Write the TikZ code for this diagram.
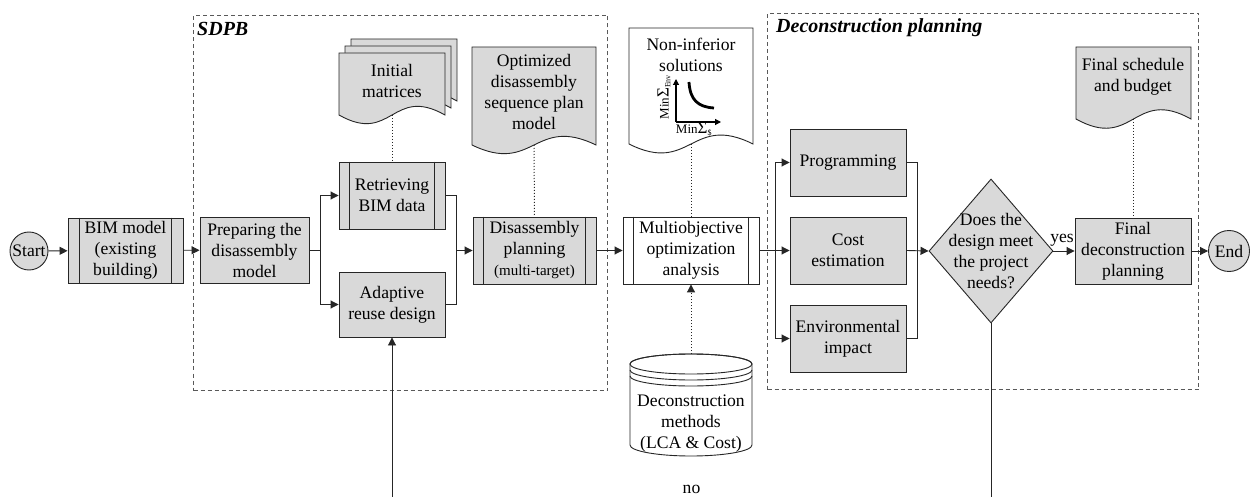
\documentclass[tikz,border=0pt]{standalone}
\usepackage{fontspec}
\setmainfont{Liberation Serif}
\usetikzlibrary{arrows.meta,shapes.geometric,calc}

\definecolor{boxgray}{HTML}{D9D9D9}
\definecolor{ink}{HTML}{262626}
\definecolor{framegray}{HTML}{595959}

% document symbol: flat top, wavy bottom (x1, ytop, x2, ybottom, wave depth)
\newcommand\docshape[6]{%
  \path[#1] (#2,#3) -- (#4,#3) -- (#4,#5)
    .. controls ({(#2+#4)/2},{#5-#6}) and ({(#2+#4)/2},{#5+#6}) .. (#2,#5) -- cycle;}

\begin{document}
\begin{tikzpicture}[x=1pt,y=-1pt,
  font=\fontsize{17.6}{21}\selectfont,
  line/.style={draw=ink, line width=0.9pt},
  arr/.style={line, -{Triangle[length=8pt,width=8pt]}},
  dots/.style={draw=ink, line width=1pt, dotted},
  dotarr/.style={dots, -{Triangle[length=8pt,width=8pt]}},
  box/.style={line, fill=boxgray, inner sep=0pt, align=center},
  whitebox/.style={line, fill=white, inner sep=0pt, align=center},
  term/.style={box, circle},
  txt/.style={inner sep=0pt, align=center},
  groupbox/.style={draw=framegray, line width=1pt, dash pattern=on 4pt off 3pt, inner sep=0pt, anchor=north west},
  grouptitle/.style={inner sep=0pt, anchor=base west, font=\fontsize{20}{24}\selectfont\bfseries\itshape},
  docfill/.style={line, fill=boxgray},
  docwhite/.style={line, fill=white},
  small/.style={font=\fontsize{13}{13}\selectfont, inner sep=0pt}
]
\path[use as bounding box] (0,0) rectangle (1250,497);
\clip (0,0) rectangle (1250,497);
\fill[white] (0,0) rectangle (1250,497);

% ---- dashed groups ----
\node[groupbox, minimum width=414pt, minimum height=375pt] (sdpb) at (193,15) {};
\node[grouptitle] (sdpbtitle) at (197,36) {SDPB};
\node[groupbox, minimum width=431pt, minimum height=376pt] (dplangroup) at (767,13) {};
\node[grouptitle] (dplantitle) at (776,33) {Deconstruction planning};

% ---- documents ----
\docshape{docfill}{351}{39}{457}{101}{30}
\docshape{docfill}{345}{46}{451}{108}{30}
\docshape{docfill}{339}{53}{445}{115}{30}
\node[txt] (initTxt) at (392,81) {Initial\\matrices};
\coordinate (initB) at (392,115);

\docshape{docfill}{472}{47}{596}{145}{30}
\node[txt] (optTxt) at (534,92) {Optimized\\disassembly\\sequence plan\\model};
\coordinate (optB) at (534,145);

\docshape{docwhite}{629}{28}{753}{144}{31}
\node[txt] (nonTxt) at (691,55) {Non-inferior\\solutions};
\coordinate (nonB) at (691,144);

\docshape{docfill}{1076}{47}{1191}{119}{32}
\node[txt] (finTxt) at (1133,77) {Final schedule\\and budget};
\coordinate (finB) at (1133,119);

% small Pareto chart inside the non-inferior document
\coordinate (ax0) at (676,122);
\coordinate (axY) at (676,79);
\coordinate (axX) at (721,122);
\draw[draw=black, line width=1.2pt, -{Triangle[length=6pt,width=6pt]}] (ax0) -- (axY);
\draw[draw=black, line width=1.2pt, -{Triangle[length=6pt,width=6pt]}] (ax0) -- (axX);
\draw[draw=black, line width=2.8pt] (689,82) .. controls (690,100) and (698,107) .. (714,108);
\node[small, rotate=90] (envlbl) at (664,97) {Min{\fontsize{17}{17}\selectfont Σ}\textsubscript{\fontsize{8}{8}\selectfont Env}};
\node[small] (costlbl) at (694,129) {Min{\fontsize{17}{17}\selectfont Σ}\textsubscript{\fontsize{8}{8}\selectfont\$}};

% ---- database ----
\path[line, fill=white] (630,364) -- (630,445) arc[start angle=180, end angle=0, x radius=61, y radius=11]
  -- (752,364) arc[start angle=0, end angle=-180, x radius=61, y radius=10] -- cycle;
\draw[line] (691,364) ellipse [x radius=61, y radius=10];
\draw[line] (630,370) arc[start angle=180, end angle=0, x radius=61, y radius=10];
\draw[line] (630,376) arc[start angle=180, end angle=0, x radius=61, y radius=10];
\node[txt] (db) at (691,424) {Deconstruction\\methods\\(LCA \& Cost)};
\coordinate (dbT) at (691,354);

% ---- process nodes ----
\node[term, minimum size=38pt] (start) at (29,251) {Start};
\node[box, minimum width=115pt, minimum height=65pt] (bim) at (125.5,250.5) {BIM model\\(existing\\building)};
\node[box, minimum width=109pt, minimum height=66pt] (prep) at (254.5,250) {Preparing the\\disassembly\\model};
\node[box, minimum width=106pt, minimum height=67pt] (retr) at (392,195.5) {Retrieving\\BIM data};
\node[box, minimum width=106pt, minimum height=65pt] (adapt) at (392,304.5) {Adaptive\\reuse design};
\node[box, minimum width=123pt, minimum height=67pt] (dplan) at (534.5,250.5) {Disassembly\\planning\\{\fontsize{15}{18}\selectfont (multi-target)}};
\node[whitebox, minimum width=136pt, minimum height=67pt] (moa) at (691,250.5) {Multiobjective\\optimization\\analysis};
\node[box, minimum width=116pt, minimum height=67pt] (prog) at (848,162.5) {Programming};
\node[box, minimum width=116pt, minimum height=67pt] (cost) at (848,250.5) {Cost\\estimation};
\node[box, minimum width=116pt, minimum height=67pt] (env) at (848,338.5) {Environmental\\impact};
\node[box, diamond, minimum width=124pt, minimum height=144pt,
  label={[name=decTxt, align=center, inner sep=0pt]center:Does the\\design meet\\the project\\needs?}] (dec) at (991,251) {};
\node[box, minimum width=116pt, minimum height=66pt] (fin) at (1133,251) {Final\\deconstruction\\planning};
\node[term, minimum size=41pt] (endn) at (1229,251) {End};

% inner bars of predefined-process boxes
\foreach \n/\o in {bim/12, retr/11, dplan/11, moa/11} {
  \draw[line] ([xshift=\o pt]\n.north west) -- ([xshift=\o pt]\n.south west);
  \draw[line] ([xshift=-\o pt]\n.north east) -- ([xshift=-\o pt]\n.south east);
}

% ---- connectors ----
\coordinate (s1) at (320,250);
\coordinate (m1) at (456,250.5);
\coordinate (s2) at (775,250.5);
\coordinate (m2) at (917,250.5);

\draw[arr] (start) -- (bim);
\draw[arr] (bim) -- (prep);
\draw[line] (prep.east) -- (s1);
\draw[arr] (s1) |- (retr.west);
\draw[arr] (s1) |- (adapt.west);
\draw[line] (retr.east) -| (m1);
\draw[line] (adapt.east) -| (m1);
\draw[arr] (m1) -- (dplan.west);
\draw[arr] (dplan.east) -- (moa.west);
\draw[arr] (moa.east) -- (cost.west);
\draw[arr] (s2) |- (prog.west);
\draw[arr] (s2) |- (env.west);
\draw[line] (prog.east) -| (m2);
\draw[line] (env.east) -| (m2);
\draw[arr] (cost.east) -- (dec.west);
\draw[arr] (dec.east) -- node[above=4pt, inner sep=0pt, xshift=-2pt] (yeslbl) {yes} (fin.west);
\draw[arr] (fin.east) -- (endn.west);
\draw[arr] (dec.south) -- ++(0,187) -| node[pos=0.25, above=16pt, inner sep=0pt] (nolbl) {no} (adapt.south);

% dotted links to documents and data
\draw[dots] (initB) -- (retr.north);
\draw[dots] (optB) -- (dplan.north);
\draw[dots] (nonB) -- (moa.north);
\draw[dots] (finB) -- (fin.north);
\draw[dotarr] (dbT) -- (moa.south);
\end{tikzpicture}
\end{document}
